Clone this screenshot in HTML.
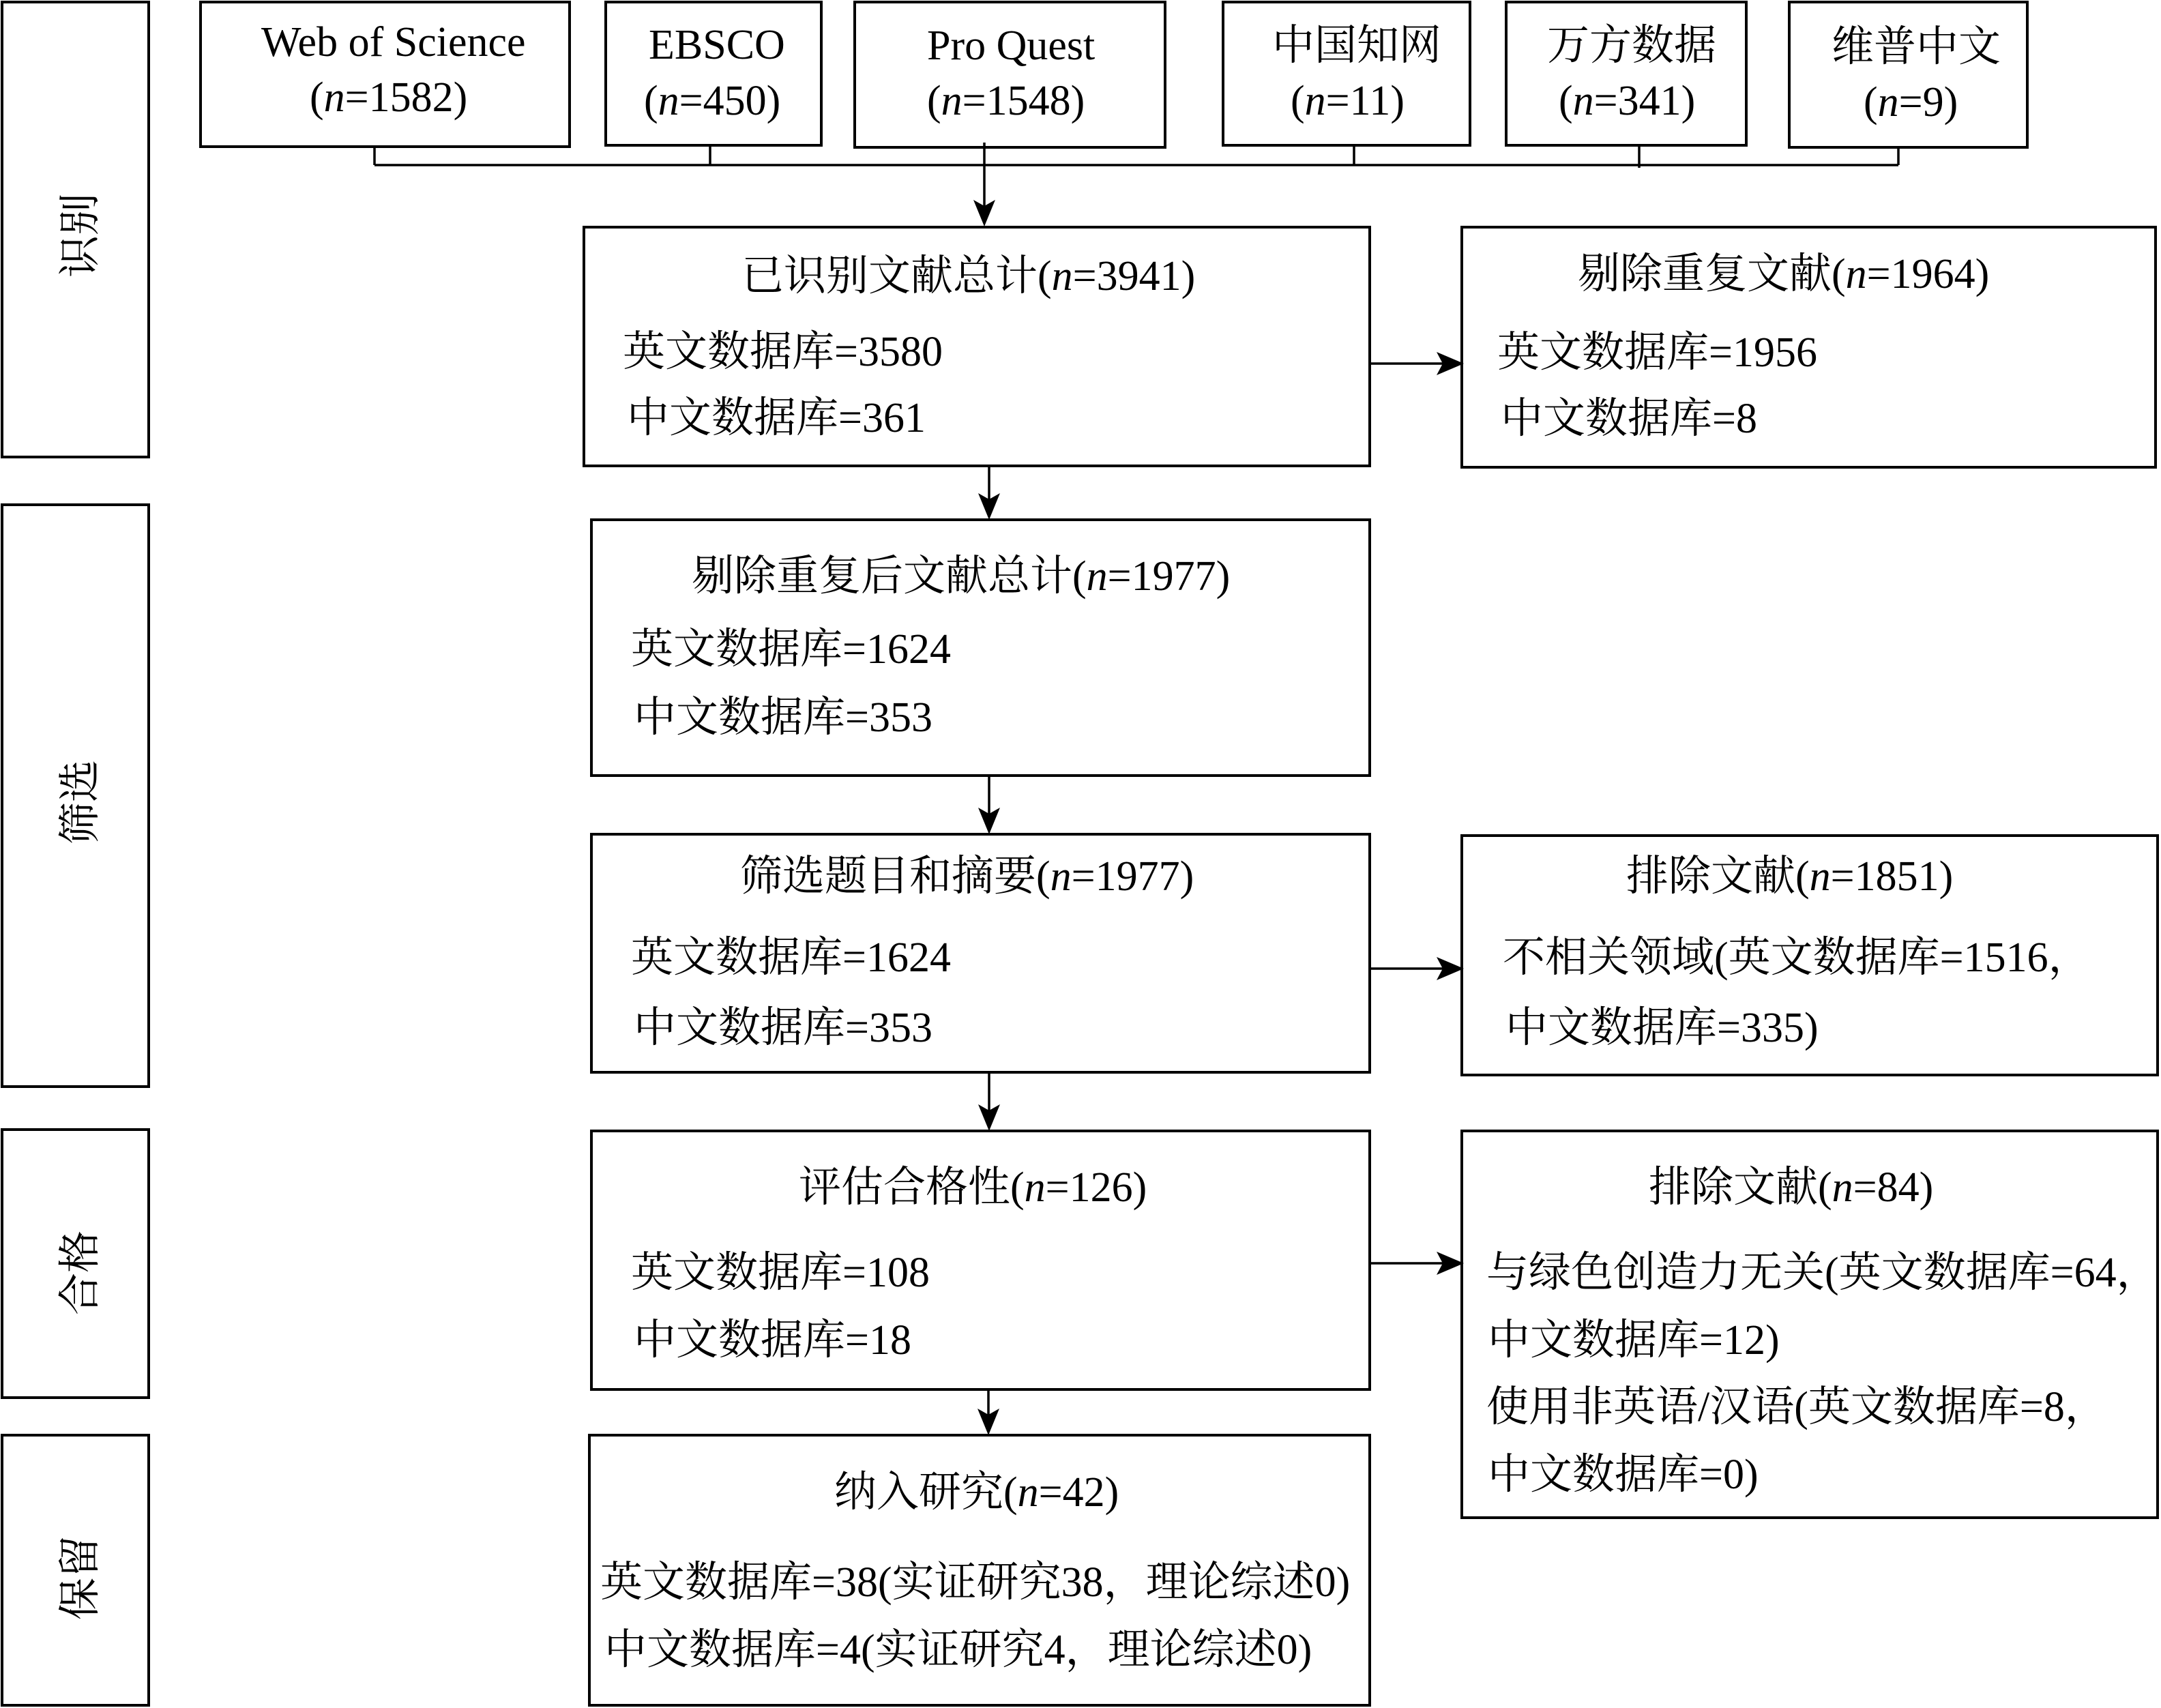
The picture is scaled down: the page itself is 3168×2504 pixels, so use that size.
<!DOCTYPE html>
<html>
<head>
<meta charset="utf-8">
<style>
html,body{margin:0;padding:0;background:#fff;}
svg{display:block;}
text{font-family:"Liberation Serif","Noto Serif CJK SC",serif;font-size:62px;fill:#000;}
.it{font-style:italic;}
</style>
</head>
<body>
<svg width="3168" height="2504" viewBox="0 0 3168 2504" xmlns="http://www.w3.org/2000/svg">
<g fill="none" stroke="#000" stroke-width="4">
  <!-- stage boxes -->
  <rect x="3" y="3" width="215" height="667"/>
  <rect x="3" y="740" width="215" height="853"/>
  <rect x="3" y="1656" width="215" height="393"/>
  <rect x="3" y="2104" width="215" height="396"/>
  <!-- source boxes -->
  <rect x="294" y="3" width="541" height="212"/>
  <rect x="888" y="3" width="316" height="210"/>
  <rect x="1253" y="3" width="455" height="213"/>
  <rect x="1793" y="3" width="362" height="210"/>
  <rect x="2208" y="3" width="352" height="210"/>
  <rect x="2623" y="3" width="349" height="213"/>
  <!-- main boxes -->
  <rect x="856" y="333" width="1152" height="350"/>
  <rect x="2143" y="333" width="1017" height="352"/>
  <rect x="867" y="762" width="1141" height="375"/>
  <rect x="867" y="1223" width="1141" height="349"/>
  <rect x="2143" y="1225" width="1020" height="351"/>
  <rect x="867" y="1658" width="1141" height="379"/>
  <rect x="2143" y="1658" width="1020" height="567"/>
  <rect x="864" y="2104" width="1144" height="396"/>
</g>
<g fill="none" stroke="#000" stroke-width="3.5">
  <!-- bracket -->
  <line x1="549" y1="242" x2="2783" y2="242"/>
  <line x1="549" y1="215" x2="549" y2="242"/>
  <line x1="1041" y1="213" x2="1041" y2="242"/>
  <line x1="1985" y1="213" x2="1985" y2="242"/>
  <line x1="2403" y1="213" x2="2403" y2="246"/>
  <line x1="2783" y1="216" x2="2783" y2="242"/>
  <!-- down arrows -->
  <line x1="1443" y1="209" x2="1443" y2="305"/>
  <line x1="1450" y1="683" x2="1450" y2="735"/>
  <line x1="1450" y1="1137" x2="1450" y2="1196"/>
  <line x1="1450" y1="1572" x2="1450" y2="1631"/>
  <line x1="1449" y1="2037" x2="1449" y2="2077"/>
  <!-- right arrows -->
  <line x1="2008" y1="533" x2="2118" y2="533"/>
  <line x1="2008" y1="1420" x2="2118" y2="1420"/>
  <line x1="2008" y1="1852" x2="2118" y2="1852"/>
</g>
<g fill="#000" stroke="none">
  <path d="M1443,332 L1427,293 L1443,302 L1459,293 Z"/>
  <path d="M1450,762 L1434,723 L1450,732 L1466,723 Z"/>
  <path d="M1450,1223 L1434,1184 L1450,1193 L1466,1184 Z"/>
  <path d="M1450,1658 L1434,1619 L1450,1628 L1466,1619 Z"/>
  <path d="M1449,2104 L1433,2065 L1449,2074 L1465,2065 Z"/>
  <path d="M2146,533 L2106,516 L2115,533 L2106,550 Z"/>
  <path d="M2146,1420 L2106,1403 L2115,1420 L2106,1437 Z"/>
  <path d="M2146,1852 L2106,1835 L2115,1852 L2106,1869 Z"/>
</g>

<!-- stage labels -->
<text transform="translate(138,345) rotate(-90)" text-anchor="middle">识别</text>
<text transform="translate(138,1176) rotate(-90)" text-anchor="middle">筛选</text>
<text transform="translate(138,1866) rotate(-90)" text-anchor="middle">合格</text>
<text transform="translate(138,2313) rotate(-90)" text-anchor="middle">保留</text>

<!-- source boxes text -->
<text x="383" y="82">Web of Science</text>
<text x="454" y="163">(<tspan class="it">n</tspan>=1582)</text>
<text x="951" y="86">EBSCO</text>
<text x="944" y="168">(<tspan class="it">n</tspan>=450)</text>
<text x="1359" y="87">Pro Quest</text>
<text x="1359" y="168">(<tspan class="it">n</tspan>=1548)</text>
<text x="1865" y="87">中国知网</text>
<text x="1892" y="168">(<tspan class="it">n</tspan>=11)</text>
<text x="2268" y="87">万方数据</text>
<text x="2285" y="168">(<tspan class="it">n</tspan>=341)</text>
<text x="2685" y="89">维普中文</text>
<text x="2732" y="170">(<tspan class="it">n</tspan>=9)</text>

<!-- 已识别 -->
<text x="1087" y="425">已识别文献总计(<tspan class="it">n</tspan>=3941)</text>
<text x="913" y="536">英文数据库=3580</text>
<text x="919" y="633">中文数据库=361</text>

<!-- 剔除重复文献 -->
<text x="2313" y="422">剔除重复文献(<tspan class="it">n</tspan>=1964)</text>
<text x="2195" y="537">英文数据库=1956</text>
<text x="2200" y="634">中文数据库=8</text>

<!-- 剔除重复后 -->
<text x="1014" y="865">剔除重复后文献总计(<tspan class="it">n</tspan>=1977)</text>
<text x="925" y="972">英文数据库=1624</text>
<text x="929" y="1072">中文数据库=353</text>

<!-- 筛选题目 -->
<text x="1085" y="1305">筛选题目和摘要(<tspan class="it">n</tspan>=1977)</text>
<text x="925" y="1424">英文数据库=1624</text>
<text x="929" y="1527">中文数据库=353</text>

<!-- 排除 1851 -->
<text x="2384" y="1305">排除文献(<tspan class="it">n</tspan>=1851)</text>
<text x="2203" y="1424">不相关领域(英文数据库=1516，</text>
<text x="2207" y="1527">中文数据库=335)</text>

<!-- 评估合格性 -->
<text x="1171" y="1761">评估合格性(<tspan class="it">n</tspan>=126)</text>
<text x="925" y="1886">英文数据库=108</text>
<text x="929" y="1985">中文数据库=18</text>

<!-- 排除 84 -->
<text x="2417" y="1761">排除文献(<tspan class="it">n</tspan>=84)</text>
<text x="2179" y="1886">与绿色创造力无关(英文数据库=64，</text>
<text x="2181" y="1985">中文数据库=12)</text>
<text x="2179" y="2083">使用非英语/汉语(英文数据库=8，</text>
<text x="2181" y="2182">中文数据库=0)</text>

<!-- 纳入研究 -->
<text x="1223" y="2208">纳入研究(<tspan class="it">n</tspan>=42)</text>
<text x="880" y="2340">英文数据库=38(实证研究38，理论综述0)</text>
<text x="886" y="2439">中文数据库=4(实证研究4，理论综述0)</text>
</svg>
</body>
</html>
